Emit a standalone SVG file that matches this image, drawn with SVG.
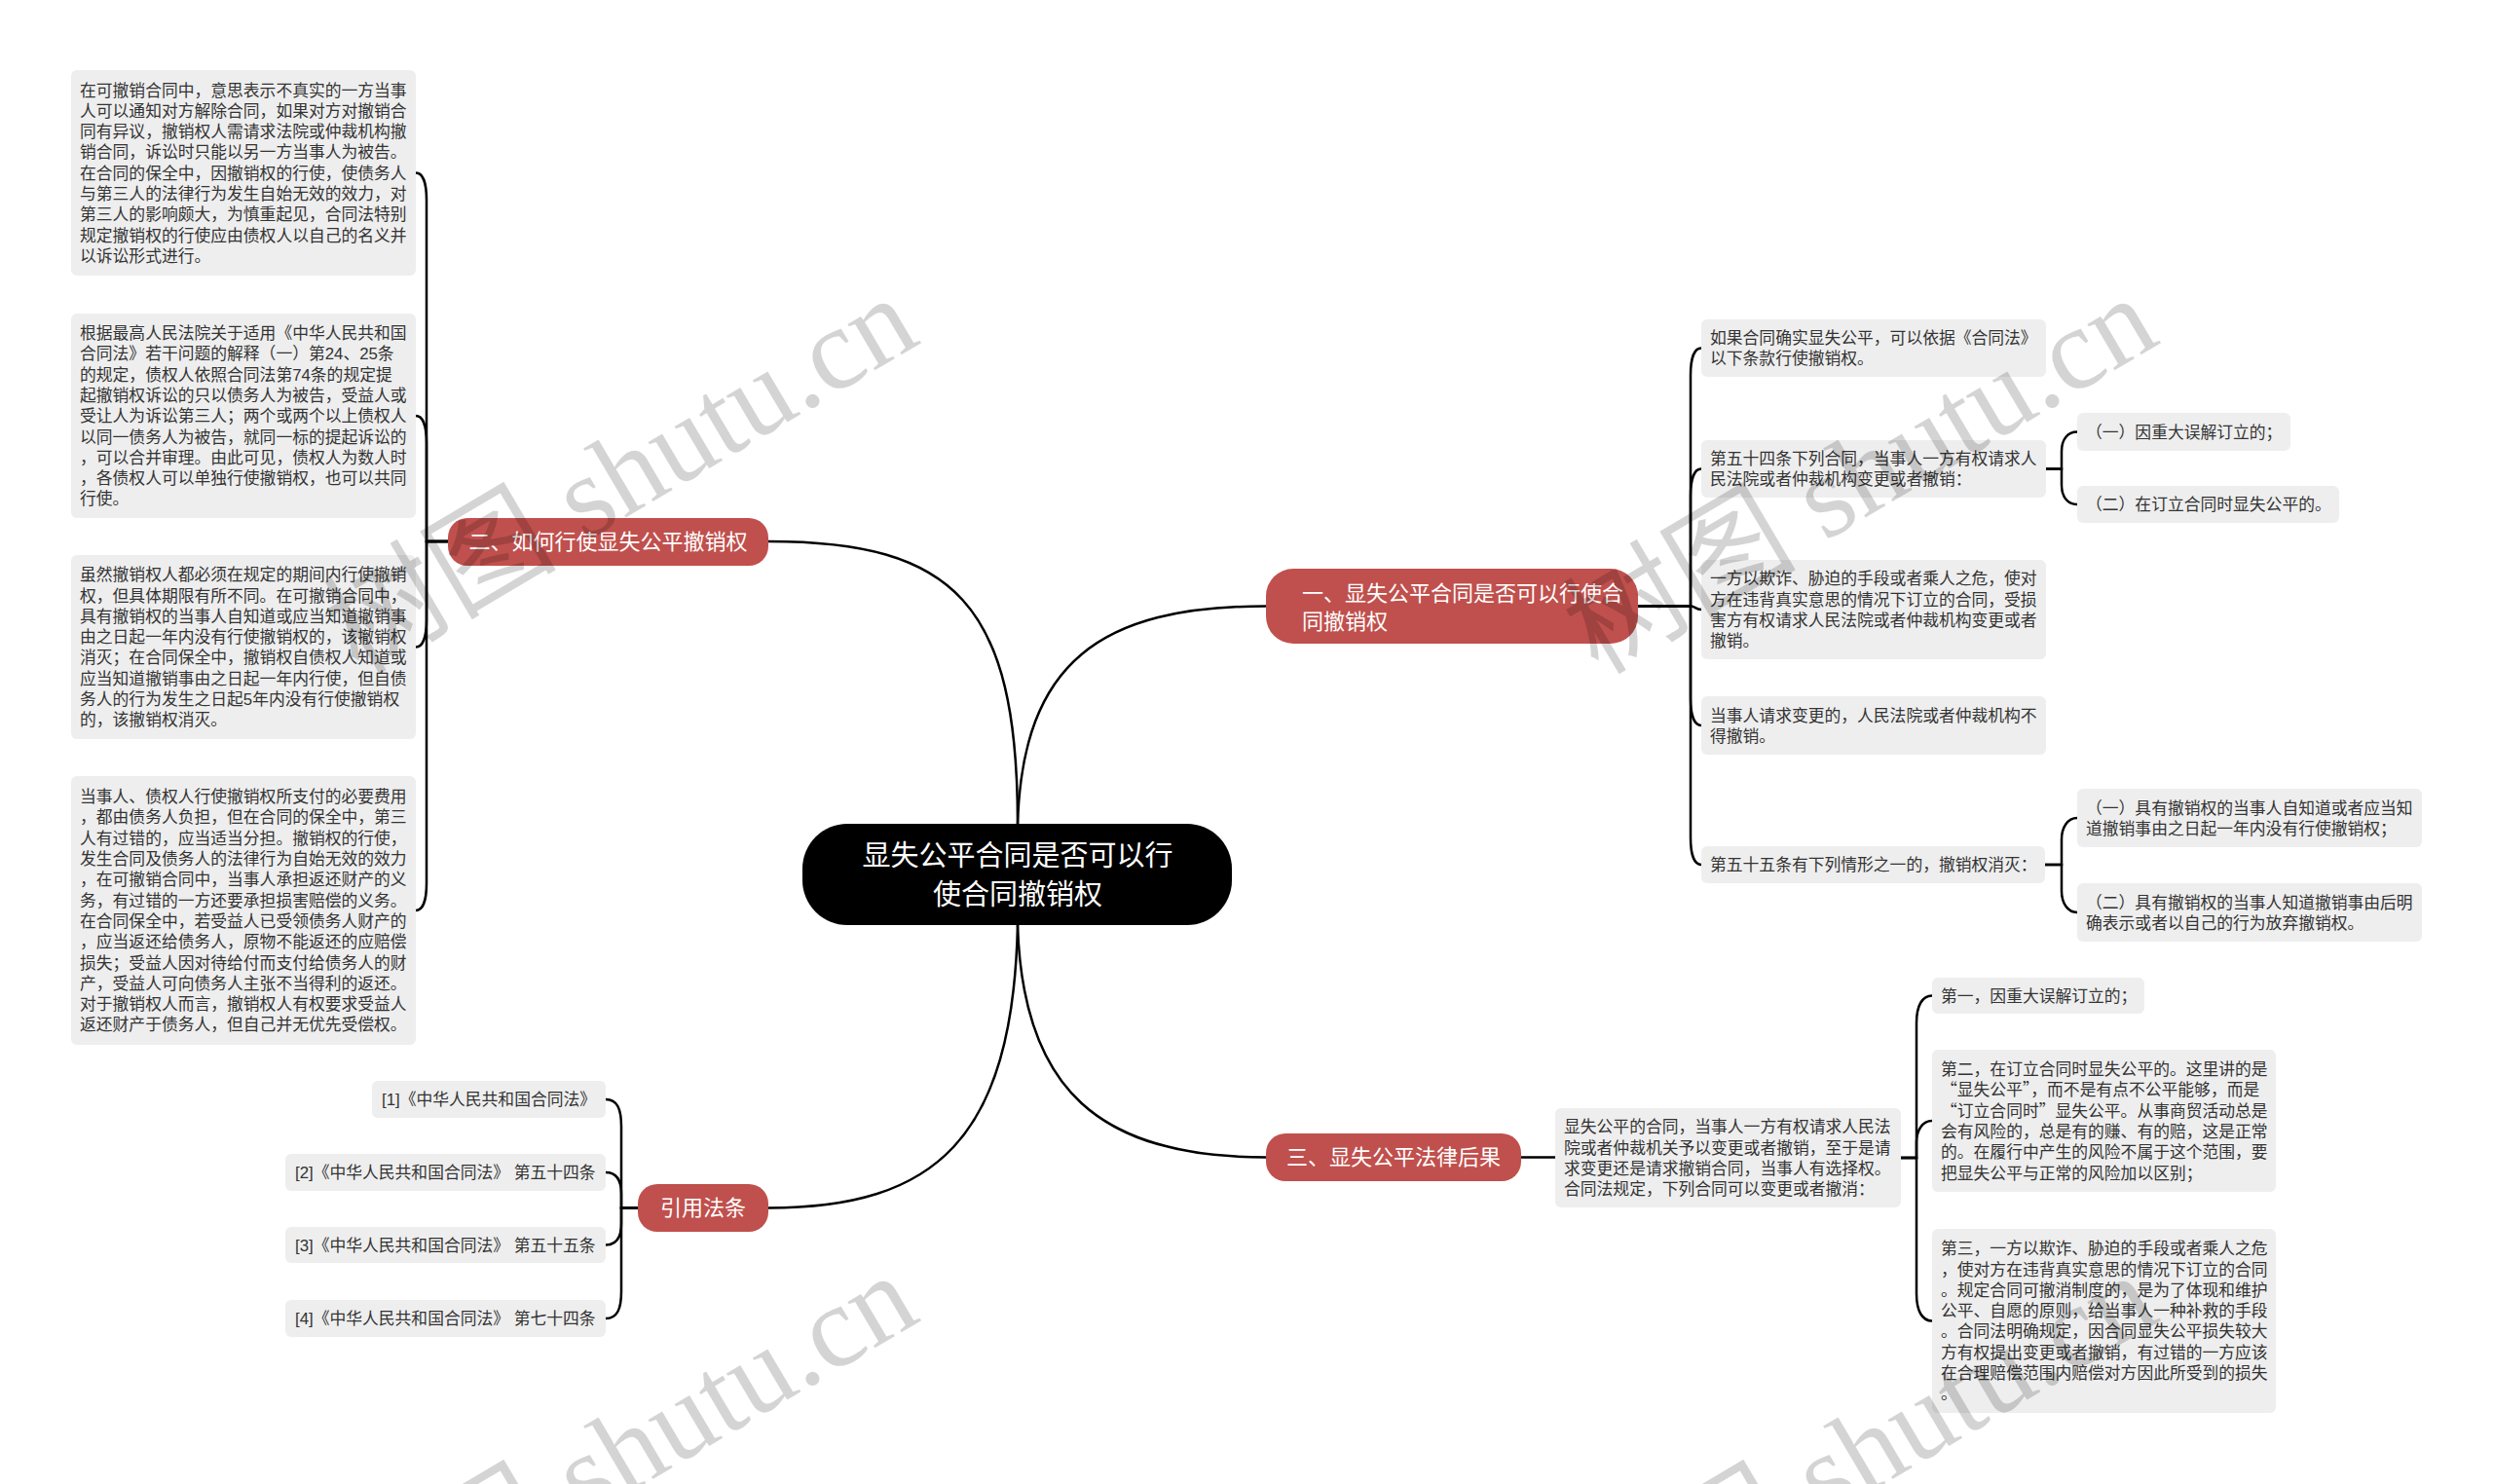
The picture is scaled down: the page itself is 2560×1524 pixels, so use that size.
<svg xmlns="http://www.w3.org/2000/svg" width="2560" height="1524" viewBox="0 0 2560 1524">
<style>
.bg{fill:#ffffff}
.box{fill:#eeeeee}
.t{font-family:"Liberation Sans","Noto Sans CJK SC",sans-serif;font-size:16.8px;fill:#333333}
.q{font-family:"Noto Sans CJK SC",sans-serif}
.main{fill:#c0504d}
.mt{font-family:"Liberation Sans","Noto Sans CJK SC",sans-serif;font-size:22px;fill:#ffffff}
.ct{font-family:"Liberation Sans","Noto Sans CJK SC",sans-serif;font-size:29px;fill:#ffffff}
.conn{fill:none;stroke:#000000;stroke-width:2.5;stroke-linecap:round}
.wm{font-family:"Liberation Serif","Noto Sans CJK SC",serif;font-size:120px;fill:#000000;fill-opacity:0.17}
</style>
<rect class="bg" x="0" y="0" width="2560" height="1524"/>

<g id="connectors">
  <path class="conn" d="M1045,846 C1045,620 980,556 789,556"/>
  <path class="conn" d="M1045,846 C1050,680 1130,622.5 1300,622.5"/>
  <path class="conn" d="M1045,950 C1050,1120 1130,1188.5 1300,1188.5"/>
  <path class="conn" d="M1045,950 C1040,1170 960,1240.5 789,1240.5"/>
  <path class="conn" d="M460,556 H438 V205.5 C438,187.5 434,177.5 427,177.5"/>
  <path class="conn" d="M460,556 H438 V455 C438,437 434,427 427,427"/>
  <path class="conn" d="M460,556 H438 V636.5 C438,654.5 434,664.5 427,664.5"/>
  <path class="conn" d="M460,556 H438 V907 C438,925 434,935 427,935"/>
  <path class="conn" d="M1682,622.5 H1736 V385.5 C1736,367.5 1740,357.5 1747,357.5"/>
  <path class="conn" d="M1682,622.5 H1736 V509.5 C1736,491.5 1740,481.5 1747,481.5"/>
  <path class="conn" d="M1682,622.5 H1736 C1741,622.5 1741,626 1747,626"/>
  <path class="conn" d="M1682,622.5 H1736 V717 C1736,735 1740,745 1747,745"/>
  <path class="conn" d="M1682,622.5 H1736 V860 C1736,878 1740,888 1747,888"/>
  <path class="conn" d="M2101,481.5 H2117 V463.5 C2117,451.5 2123,443.5 2133,443.5"/>
  <path class="conn" d="M2101,481.5 H2117 V498 C2117,510 2123,518 2133,518"/>
  <path class="conn" d="M2100,888 H2117 V862 C2117,850 2123,840 2133,840"/>
  <path class="conn" d="M2100,888 H2117 V915 C2117,927 2123,937 2133,937"/>
  <path class="conn" d="M1562,1188.5 H1597"/>
  <path class="conn" d="M1952,1189 H1968 V1050.5 C1968,1032.5 1974,1022.5 1984,1022.5"/>
  <path class="conn" d="M1952,1189 H1968 V1173 C1968,1161 1974,1151 1984,1151"/>
  <path class="conn" d="M1952,1189 H1968 V1328.5 C1968,1346.5 1974,1356.5 1984,1356.5"/>
  <path class="conn" d="M655,1240.5 H638 V1157 C638,1139 634,1129 622,1129"/>
  <path class="conn" d="M655,1240.5 H638 V1226 C638,1214 634,1204 622,1204"/>
  <path class="conn" d="M655,1240.5 H638 V1256.5 C638,1268.5 634,1278.5 622,1278.5"/>
  <path class="conn" d="M655,1240.5 H638 V1326 C638,1344 634,1354 622,1354"/>
</g>

<g id="center">
  <rect x="824" y="846" width="441" height="104" rx="46" fill="#000000"/>
  <text class="ct" x="1045" y="889" text-anchor="middle">显失公平合同是否可以行</text>
  <text class="ct" x="1045" y="929" text-anchor="middle">使合同撤销权</text>
</g>

<g id="node-two">
  <rect class="main" x="460" y="532" width="329" height="49" rx="20"/>
  <text class="mt" x="624.5" y="564.4" text-anchor="middle">二、如何行使显失公平撤销权</text>
</g>
<g id="node-one">
  <rect class="main" x="1300" y="584" width="382" height="77" rx="28"/>
  <text class="mt" x="1337" y="617.4">一、显失公平合同是否可以行使合</text>
  <text class="mt" x="1337" y="646.4">同撤销权</text>
</g>
<g id="node-three">
  <rect class="main" x="1300" y="1164" width="262" height="49" rx="20"/>
  <text class="mt" x="1431" y="1196.4" text-anchor="middle">三、显失公平法律后果</text>
</g>
<g id="node-refs">
  <rect class="main" x="655" y="1216" width="134" height="49" rx="20"/>
  <text class="mt" x="722" y="1248.4" text-anchor="middle">引用法条</text>
</g>

<g id="L1">
  <rect class="box" x="73" y="72" width="354" height="211" rx="6"/>
  <text class="t" x="82" y="98.5">
    <tspan x="82">在可撤销合同中，意思表示不真实的一方当事</tspan>
    <tspan x="82" dy="21.3">人可以通知对方解除合同，如果对方对撤销合</tspan>
    <tspan x="82" dy="21.3">同有异议，撤销权人需请求法院或仲裁机构撤</tspan>
    <tspan x="82" dy="21.3">销合同，诉讼时只能以另一方当事人为被告。</tspan>
    <tspan x="82" dy="21.3">在合同的保全中，因撤销权的行使，使债务人</tspan>
    <tspan x="82" dy="21.3">与第三人的法律行为发生自始无效的效力，对</tspan>
    <tspan x="82" dy="21.3">第三人的影响颇大，为慎重起见，合同法特别</tspan>
    <tspan x="82" dy="21.3">规定撤销权的行使应由债权人以自己的名义并</tspan>
    <tspan x="82" dy="21.3">以诉讼形式进行。</tspan>
  </text>
</g>
<g id="L2">
  <rect class="box" x="73" y="322" width="354" height="210" rx="6"/>
  <text class="t" x="82" y="348">
    <tspan x="82">根据最高人民法院关于适用《中华人民共和国</tspan>
    <tspan x="82" dy="21.3">合同法》若干问题的解释（一）第24、25条</tspan>
    <tspan x="82" dy="21.3">的规定，债权人依照合同法第74条的规定提</tspan>
    <tspan x="82" dy="21.3">起撤销权诉讼的只以债务人为被告，受益人或</tspan>
    <tspan x="82" dy="21.3">受让人为诉讼第三人；两个或两个以上债权人</tspan>
    <tspan x="82" dy="21.3">以同一债务人为被告，就同一标的提起诉讼的</tspan>
    <tspan x="82" dy="21.3">，可以合并审理。由此可见，债权人为数人时</tspan>
    <tspan x="82" dy="21.3">，各债权人可以单独行使撤销权，也可以共同</tspan>
    <tspan x="82" dy="21.3">行使。</tspan>
  </text>
</g>
<g id="L3">
  <rect class="box" x="73" y="570" width="354" height="189" rx="6"/>
  <text class="t" x="82" y="596.2">
    <tspan x="82">虽然撤销权人都必须在规定的期间内行使撤销</tspan>
    <tspan x="82" dy="21.3">权，但具体期限有所不同。在可撤销合同中，</tspan>
    <tspan x="82" dy="21.3">具有撤销权的当事人自知道或应当知道撤销事</tspan>
    <tspan x="82" dy="21.3">由之日起一年内没有行使撤销权的，该撤销权</tspan>
    <tspan x="82" dy="21.3">消灭；在合同保全中，撤销权自债权人知道或</tspan>
    <tspan x="82" dy="21.3">应当知道撤销事由之日起一年内行使，但自债</tspan>
    <tspan x="82" dy="21.3">务人的行为发生之日起5年内没有行使撤销权</tspan>
    <tspan x="82" dy="21.3">的，该撤销权消灭。</tspan>
  </text>
</g>
<g id="L4">
  <rect class="box" x="73" y="797" width="354" height="276" rx="6"/>
  <text class="t" x="82" y="824.1">
    <tspan x="82">当事人、债权人行使撤销权所支付的必要费用</tspan>
    <tspan x="82" dy="21.3">，都由债务人负担，但在合同的保全中，第三</tspan>
    <tspan x="82" dy="21.3">人有过错的，应当适当分担。撤销权的行使，</tspan>
    <tspan x="82" dy="21.3">发生合同及债务人的法律行为自始无效的效力</tspan>
    <tspan x="82" dy="21.3">，在可撤销合同中，当事人承担返还财产的义</tspan>
    <tspan x="82" dy="21.3">务，有过错的一方还要承担损害赔偿的义务。</tspan>
    <tspan x="82" dy="21.3">在合同保全中，若受益人已受领债务人财产的</tspan>
    <tspan x="82" dy="21.3">，应当返还给债务人，原物不能返还的应赔偿</tspan>
    <tspan x="82" dy="21.3">损失；受益人因对待给付而支付给债务人的财</tspan>
    <tspan x="82" dy="21.3">产，受益人可向债务人主张不当得利的返还。</tspan>
    <tspan x="82" dy="21.3">对于撤销权人而言，撤销权人有权要求受益人</tspan>
    <tspan x="82" dy="21.3">返还财产于债务人，但自己并无优先受偿权。</tspan>
  </text>
</g>

<g id="A">
  <rect class="box" x="1747" y="328" width="354" height="59" rx="6"/>
  <text class="t" x="1756" y="353.1">
    <tspan x="1756">如果合同确实显失公平，可以依据《合同法》</tspan>
    <tspan x="1756" dy="21.3">以下条款行使撤销权。</tspan>
  </text>
</g>
<g id="B">
  <rect class="box" x="1747" y="452" width="354" height="59" rx="6"/>
  <text class="t" x="1756" y="477">
    <tspan x="1756">第五十四条下列合同，当事人一方有权请求人</tspan>
    <tspan x="1756" dy="21.3">民法院或者仲裁机构变更或者撤销：</tspan>
  </text>
</g>
<g id="B1">
  <rect class="box" x="2133" y="424" width="219" height="39" rx="6"/>
  <text class="t" x="2142" y="449.7">（一）因重大误解订立的；</text>
</g>
<g id="B2">
  <rect class="box" x="2133" y="499" width="269" height="38" rx="6"/>
  <text class="t" x="2142" y="524.2">（二）在订立合同时显失公平的。</text>
</g>
<g id="C">
  <rect class="box" x="1747" y="575" width="354" height="102" rx="6"/>
  <text class="t" x="1756" y="600.2">
    <tspan x="1756">一方以欺诈、胁迫的手段或者乘人之危，使对</tspan>
    <tspan x="1756" dy="21.3">方在违背真实意思的情况下订立的合同，受损</tspan>
    <tspan x="1756" dy="21.3">害方有权请求人民法院或者仲裁机构变更或者</tspan>
    <tspan x="1756" dy="21.3">撤销。</tspan>
  </text>
</g>
<g id="D">
  <rect class="box" x="1747" y="715" width="354" height="60" rx="6"/>
  <text class="t" x="1756" y="740.5">
    <tspan x="1756">当事人请求变更的，人民法院或者仲裁机构不</tspan>
    <tspan x="1756" dy="21.3">得撤销。</tspan>
  </text>
</g>
<g id="E">
  <rect class="box" x="1747" y="869" width="353" height="38" rx="6"/>
  <text class="t" x="1756" y="894.2">第五十五条有下列情形之一的，撤销权消灭：</text>
</g>
<g id="E1">
  <rect class="box" x="2133" y="810" width="354" height="60" rx="6"/>
  <text class="t" x="2142" y="835.5">
    <tspan x="2142">（一）具有撤销权的当事人自知道或者应当知</tspan>
    <tspan x="2142" dy="21.3">道撤销事由之日起一年内没有行使撤销权；</tspan>
  </text>
</g>
<g id="E2">
  <rect class="box" x="2133" y="907" width="354" height="60" rx="6"/>
  <text class="t" x="2142" y="932.5">
    <tspan x="2142">（二）具有撤销权的当事人知道撤销事由后明</tspan>
    <tspan x="2142" dy="21.3">确表示或者以自己的行为放弃撤销权。</tspan>
  </text>
</g>

<g id="T">
  <rect class="box" x="1597" y="1138" width="355" height="102" rx="6"/>
  <text class="t" x="1606" y="1163.2">
    <tspan x="1606">显失公平的合同，当事人一方有权请求人民法</tspan>
    <tspan x="1606" dy="21.3">院或者仲裁机关予以变更或者撤销，至于是请</tspan>
    <tspan x="1606" dy="21.3">求变更还是请求撤销合同，当事人有选择权。</tspan>
    <tspan x="1606" dy="21.3">合同法规定，下列合同可以变更或者撤消：</tspan>
  </text>
</g>
<g id="R1">
  <rect class="box" x="1984" y="1004" width="218" height="37" rx="6"/>
  <text class="t" x="1993" y="1028.7">第一，因重大误解订立的；</text>
</g>
<g id="R2">
  <rect class="box" x="1984" y="1078" width="353" height="146" rx="6"/>
  <text class="t" x="1993" y="1104">
    <tspan x="1993">第二，在订立合同时显失公平的。这里讲的是</tspan>
    <tspan x="1993" dy="21.3" class="q">“显失公平”，而不是有点不公平能够，而是</tspan>
    <tspan x="1993" dy="21.3" class="q">“订立合同时”显失公平。从事商贸活动总是</tspan>
    <tspan x="1993" dy="21.3">会有风险的，总是有的赚、有的赔，这是正常</tspan>
    <tspan x="1993" dy="21.3">的。在履行中产生的风险不属于这个范围，要</tspan>
    <tspan x="1993" dy="21.3">把显失公平与正常的风险加以区别；</tspan>
  </text>
</g>
<g id="R3">
  <rect class="box" x="1984" y="1262" width="353" height="189" rx="6"/>
  <text class="t" x="1993" y="1288.2">
    <tspan x="1993">第三，一方以欺诈、胁迫的手段或者乘人之危</tspan>
    <tspan x="1993" dy="21.3">，使对方在违背真实意思的情况下订立的合同</tspan>
    <tspan x="1993" dy="21.3">。规定合同可撤消制度的，是为了体现和维护</tspan>
    <tspan x="1993" dy="21.3">公平、自愿的原则，给当事人一种补救的手段</tspan>
    <tspan x="1993" dy="21.3">。合同法明确规定，因合同显失公平损失较大</tspan>
    <tspan x="1993" dy="21.3">方有权提出变更或者撤销，有过错的一方应该</tspan>
    <tspan x="1993" dy="21.3">在合理赔偿范围内赔偿对方因此所受到的损失</tspan>
    <tspan x="1993" dy="21.3">。</tspan>
  </text>
</g>

<g id="ref1">
  <rect class="box" x="382" y="1110" width="240" height="38" rx="6"/>
  <text class="t" x="392" y="1135.2">[1]《中华人民共和国合同法》</text>
</g>
<g id="ref2">
  <rect class="box" x="293" y="1185" width="329" height="38" rx="6"/>
  <text class="t" x="303" y="1210.2">[2]《中华人民共和国合同法》 第五十四条</text>
</g>
<g id="ref3">
  <rect class="box" x="293" y="1260" width="329" height="37" rx="6"/>
  <text class="t" x="303" y="1284.7">[3]《中华人民共和国合同法》 第五十五条</text>
</g>
<g id="ref4">
  <rect class="box" x="293" y="1335" width="329" height="38" rx="6"/>
  <text class="t" x="303" y="1360.2">[4]《中华人民共和国合同法》 第七十四条</text>
</g>

<g id="watermark">
  <text class="wm" x="368" y="694" transform="rotate(-30.6 368 694)">树图 shutu.cn</text>
  <text class="wm" x="1641" y="694" transform="rotate(-30.6 1641 694)">树图 shutu.cn</text>
  <text class="wm" x="368" y="1698" transform="rotate(-30.6 368 1698)">树图 shutu.cn</text>
  <text class="wm" x="1641" y="1698" transform="rotate(-30.6 1641 1698)">树图 shutu.cn</text>
</g>
</svg>
